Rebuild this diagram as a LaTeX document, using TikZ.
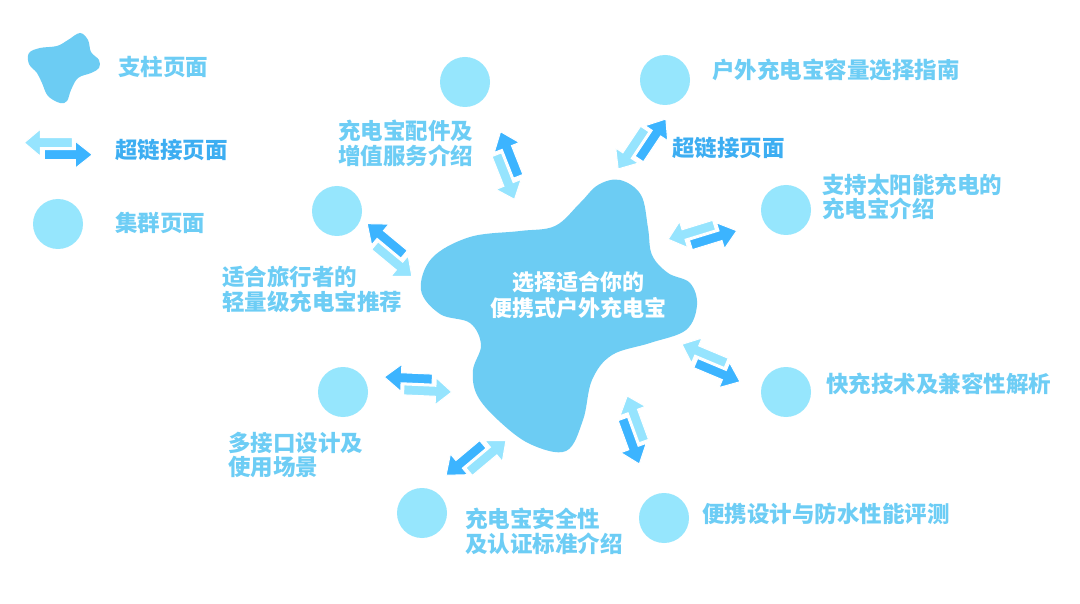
\documentclass[tikz,border=0pt]{standalone}
\usepackage{fontspec}
\newfontfamily\cjk{Noto Sans CJK SC}
\definecolor{blobc}{HTML}{6CCCF3}
\definecolor{circc}{HTML}{96E6FD}
\definecolor{darkar}{HTML}{3CB4FF}
\definecolor{lightar}{HTML}{96E4FE}
\definecolor{labc}{HTML}{6DCDF5}
\definecolor{linkc}{HTML}{3DAEF2}
\tikzset{
  circ/.style={circle, fill=circc, minimum size=50pt, inner sep=0pt},
  lab/.style={font=\cjk\bfseries\fontsize{22.5}{24.5}\selectfont, text=labc, inner sep=0pt, anchor=west, align=left},
  linklab/.style={lab, text=linkc},
  centerlab/.style={font=\cjk\bfseries\fontsize{22}{26}\selectfont, text=white, inner sep=0pt, align=center},
  dbl/.pic={
    \filldraw[fill=lightar, draw=white, line width=1pt, line join=miter]
      (14pt,1pt) -- (14pt,11pt) -- (-18pt,11pt) -- (-18pt,19.5pt) -- (-34pt,6pt) -- (-18pt,-7.5pt) -- (-18pt,1pt) -- cycle;
    \filldraw[fill=darkar, draw=white, line width=1pt, line join=miter]
      (-14pt,-1pt) -- (-14pt,-11pt) -- (17pt,-11pt) -- (17pt,-19.5pt) -- (34pt,-6pt) -- (17pt,7.5pt) -- (17pt,-1pt) -- cycle;
  }
}
\begin{document}
\begin{tikzpicture}[x=1pt, y=-1pt]
\useasboundingbox (0,0) rectangle (1080,604);
\fill[white] (0,0) rectangle (1080,604);

% legend
\fill[blobc] plot[smooth cycle, tension=0.6] coordinates {
  (80,33) (88,40) (91,52) (99,60) (99,68) (91,73) (78,78) (71,90) (67,101) (60,103)
  (48,96) (42,83) (37,73) (29,64) (29,53) (40,48) (57,46) (68,40)};
\node[lab] (lg1) at (118,67) {支柱页面};
\pic[rotate=0] at (58.3,148.7) {dbl};
\node[linklab] (lg2) at (115,150) {超链接页面};
\node[circ] (lgc) at (58,224) {};
\node[lab] (lg3) at (115,223) {集群页面};

% central blob
\fill[blobc] plot[smooth cycle, tension=0.6] coordinates {
  (620,180) (641,195) (648,228) (652,255) (668,273) (690,283) (697,305) (686,330)
  (650,343) (612,355) (592,380) (583,420) (566,451) (530,444) (498,420) (477,395)
  (473,370) (481,345) (470,323) (440,314) (421,290) (432,258) (470,237) (520,231)
  (555,226) (580,203) (598,185)};
\node[centerlab] (hub) at (578,295) {选择适合你的\\便携式户外充电宝};

% cluster circles
\node[circ] (c1) at (465,82) {};
\node[circ] (c2) at (665,80) {};
\node[circ] (c3) at (786,210) {};
\node[circ] (c4) at (337,211) {};
\node[circ] (c5) at (786,392) {};
\node[circ] (c6) at (343,392) {};
\node[circ] (c7) at (422,513) {};
\node[circ] (c8) at (664,518) {};

% labels
\node[lab] (l1) at (338,143.5) {充电宝配件及\\增值服务介绍};
\node[lab] (l2) at (712,70) {户外充电宝容量选择指南};
\node[linklab] (l2b) at (672,148) {超链接页面};
\node[lab] (l3) at (822,197) {支持太阳能充电的\\充电宝介绍};
\node[lab] (l4) at (222,289.5) {适合旅行者的\\轻量级充电宝推荐};
\node[lab] (l5) at (826,384) {快充技术及兼容性解析};
\node[lab] (l6) at (228,455) {多接口设计及\\使用场景};
\node[lab] (l7) at (465,531.5) {充电宝安全性\\及认证标准介绍};
\node[lab] (l8) at (702,514) {便携设计与防水性能评测};

% hyperlink double arrows
\pic[rotate=111.6] at (507.5,165.5) {dbl};
\pic[rotate=56.3] at (642,144) {dbl};
\pic[rotate=17.1] at (702.5,235) {dbl};
\pic[rotate=140.3] at (389.5,250) {dbl};
\pic[rotate=-22.8] at (711,363) {dbl};
\pic[rotate=177.5] at (418,384.5) {dbl};
\pic[rotate=-140] at (476,458) {dbl};
\pic[rotate=-69.9] at (633.3,430) {dbl};
\end{tikzpicture}
\end{document}
